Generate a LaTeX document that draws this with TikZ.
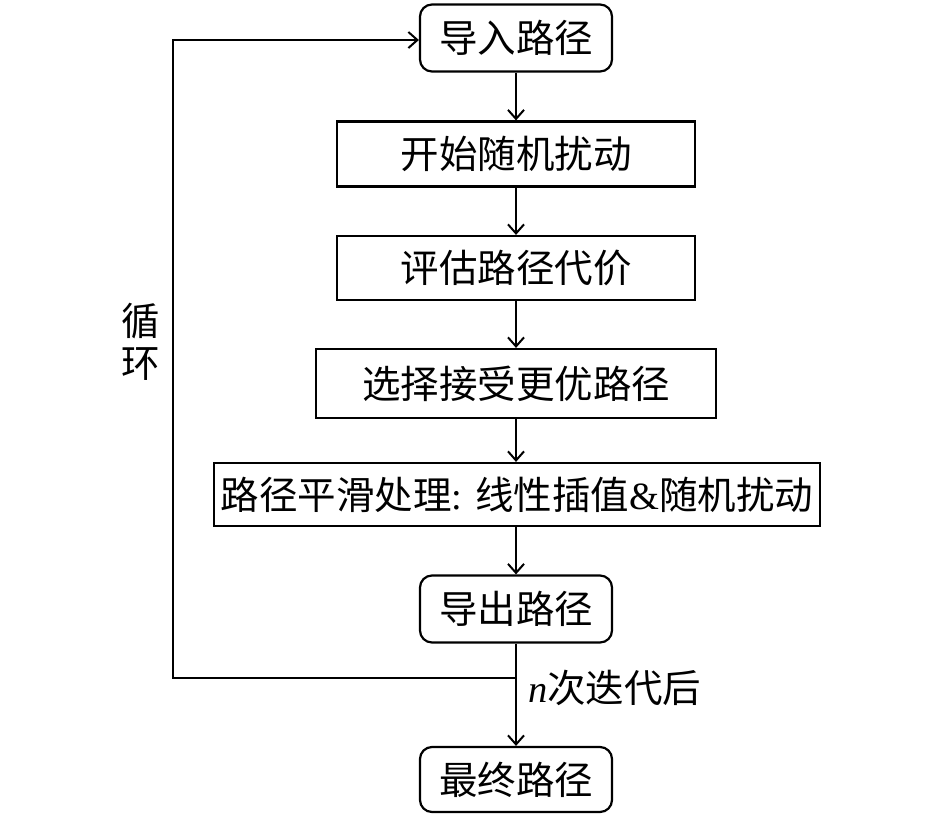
\documentclass[tikz,border=0pt]{standalone}
\usepackage{fontspec}
\setmainfont{Liberation Serif}
\newfontfamily\cjk{Noto Sans CJK SC}
\usetikzlibrary{arrows.meta}
\begin{document}
\begin{tikzpicture}[x=1pt,y=-1pt,
  every node/.style={font=\fontsize{38.5}{42}\selectfont\cjk, inner sep=0pt},
  rbox/.style={draw, line width=2.2pt, rounded corners=12pt, minimum width=192pt, minimum height=67pt},
  sbox/.style={draw, line width=2.2pt, minimum height=65pt},
  conn/.style={line width=2pt, -{Straight Barb[length=9pt,width=16pt,line width=2pt]}},
  plain/.style={line width=2pt}]
\useasboundingbox (0,0) rectangle (945,817);
\node[rbox] (a) at (516,38) {导入路径};
\node[sbox, minimum width=358pt] (b) at (516,154) {开始随机扰动};
\node[sbox, minimum width=358pt, minimum height=64pt] (c) at (516,268) {评估路径代价};
\node[sbox, minimum width=400pt, minimum height=69pt] (d) at (516,383.5) {选择接受更优路径};
\node[sbox, minimum width=606pt, minimum height=63pt] (e) at (517,494.5) {路径平滑处理{\rmfamily: }线性插值{\rmfamily\&}随机扰动};
\node[rbox] (f) at (516,609) {导出路径};
\node[rbox, minimum height=65pt] (g) at (516,779.5) {最终路径};
\coordinate (j) at (516,678);
\coordinate (c1) at (173,678);
\coordinate (c2) at (173,40);
\draw[conn] (a.south) -- (a.south |- b.north);
\draw[conn] (b.south) -- (b.south |- c.north);
\draw[conn] (c.south) -- (c.south |- d.north);
\draw[conn] (d.south) -- (d.south |- e.north);
\draw[conn] (e.south -| f) -- (f.north);
\draw[conn] (f.south) -- (g.north);
\draw[conn] (j) -- (c1) -- (c2) -- (c2 -| a.west);
\node[align=center] (loop) at (141,342) {循\\[0pt]环};
\node[anchor=west] (lbl) at (528,688) {{\rmfamily\itshape n}次迭代后};
\end{tikzpicture}
\end{document}
